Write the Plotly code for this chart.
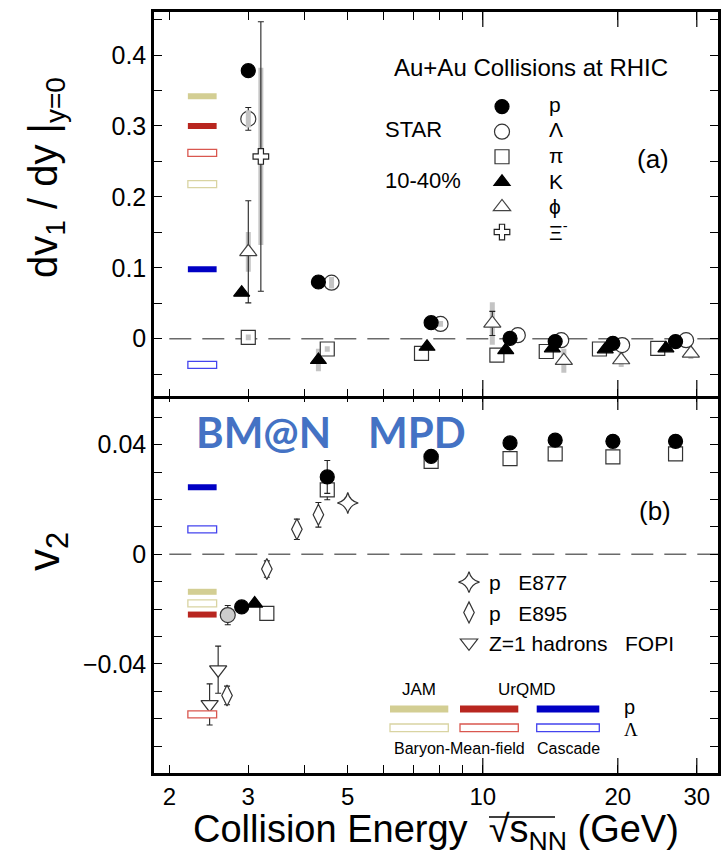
import plotly.graph_objects as go

# ---------------- data ----------------
# Panel (a): directed flow slope dv1/dy at y=0 (STAR, 10-40%)
p_a_E = [3.0, 4.3, 7.67, 11.5, 14.5, 19.5, 26.9]
p_a = [0.378, 0.080, 0.0226, 0.0005, -0.004, -0.0065, -0.004]

lam_a_E = [3.0, 4.6, 8.05, 11.97, 14.96, 20.45, 28.4]
lam_a = [0.310, 0.079, 0.0209, 0.005, -0.002, -0.0089, -0.002]
lam_a_err = [0.016, 0.004, 0, 0, 0, 0, 0]
lam_a_sys = [0.012, 0.008, 0.004, 0, 0, 0, 0]

pi_a_E = [3.0, 4.5, 7.3, 10.75, 13.85, 18.2, 24.55]
pi_a = [0.002, -0.0145, -0.0206, -0.023, -0.018, -0.0145, -0.0135]
pi_a_sys = [0.004, 0.004, 0, 0, 0, 0, 0]

k_a_E = [2.9, 4.3, 7.51, 11.25, 14.29, 18.75, 25.6]
k_a = [0.065, -0.030, -0.0113, -0.016, -0.0135, -0.015, -0.0135]
k_a_sys = [0, 0.016, 0, 0, 0, 0, 0]

phi_a_E = [3.0, 10.5, 15.16, 20.35, 29.1]
phi_a = [0.1226, 0.0216, -0.031, -0.030, -0.0206]
phi_a_err = [0.072, 0.017, 0.004, 0.003, 0.003]
phi_a_sys = [0.028, 0.03, 0.017, 0.01, 0.008]

xi_a_E = [3.2]
xi_a = [0.257]
xi_a_err = [0.19]
xi_a_sys = [0.125]

# Panel (b): elliptic flow v2
p_b_E = [2.9, 4.5, 7.67, 11.5, 14.5, 19.5, 26.9]
p_b = [-0.0192, 0.0282, 0.0357, 0.0406, 0.0416, 0.0412, 0.0412]
p_b_err = [0, 0.006, 0, 0, 0, 0, 0]

sq_b_E = [3.3, 4.5, 7.67, 11.5, 14.5, 19.5, 26.9]
sq_b = [-0.0216, 0.0235, 0.0339, 0.0349, 0.0366, 0.0355, 0.0366]
sq_b_err = [0, 0.0036, 0, 0, 0, 0, 0]

k_b_E = [3.1]
k_b = [-0.018]

lam_b_E = [2.7]
lam_b = [-0.0222]
lam_b_err = [0.0035]

e877_E = [5.0]
e877 = [0.0187]
e877_err = [0.0018]

e895_E = [2.69, 3.3, 3.85, 4.3]
e895 = [-0.0515, -0.0054, 0.0091, 0.0144]
e895_err = [0.0034, 0.003, 0.0037, 0.0045]

fopi_E = [2.46, 2.57]
fopi = [-0.0548, -0.0421]
fopi_err = [0.0075, 0.0086]

# Model calculations (bars on the left)
models = ["JAM", "UrQMD", "Cascade"]
model_E = [2.2, 2.55]
dv1_model_p = [0.342, 0.300, 0.098]
dv1_model_lam = [0.218, 0.262, -0.037]
v2_model_p = [-0.0137, -0.0220, 0.0244]
v2_model_lam = [-0.0179, -0.0584, 0.0091]
model_fill = ["#d3ce93", "#b8261f", "#0000c4"]
model_edge = ["#d9d4a2", "#d9574f", "#4444ee"]

star_labels = ["p", "\u039b", "\u03c0", "K", "\u03d5", "\u039e<sup>-</sup>"]

x_ticks = [2, 3, 5, 10, 20, 30]
x_long = [10, 20, 30]
x_minor = [4, 6, 7, 8, 9]
ya_ticks = [0, 0.1, 0.2, 0.3, 0.4]
yb_ticks = [-0.04, 0, 0.04]
yb_ticktext = ["\u22120.04", "0", "0.04"]

# ---------------- layout geometry ----------------
FONT = "Liberation Sans, Arial, sans-serif"
W, H = 722, 859
L, R, T, B = 154, 4, 12, 86
PW = W - L - R
PH = H - T - B
DIV = 395
DSPLIT = (H - B - DIV) / PH
HALF = 1.25 / PH   # so that the two panel frame lines coincide


def px(x):
    return (x - L) / PW


def py(y):
    return (H - B - y) / PH


fig = go.Figure()
INK = "#222"
NB = "\u00a0"


def add_sys(E, v, sys, panel):
    fig.add_trace(go.Scatter(
        x=E, y=v, xaxis="x2" if panel == "a" else "x", yaxis="y2" if panel == "a" else "y",
        mode="markers", marker=dict(size=1, opacity=0), showlegend=False, hoverinfo="skip",
        error_y=dict(type="data", array=sys, color="#c4c4c4", thickness=5, width=0)))


def add_pts(E, v, panel, symbol, size, fill, err=None, name=None, legend=None, rank=None,
            line_color=INK, lw=1.2):
    kw = dict(
        x=E, y=v, xaxis="x2" if panel == "a" else "x", yaxis="y2" if panel == "a" else "y",
        mode="markers", hoverinfo="skip",
        marker=dict(symbol=symbol, size=size, color=fill, line=dict(color=line_color, width=lw)),
        showlegend=name is not None, name=name or "")
    if legend:
        kw["legend"] = legend
    if rank:
        kw["legendrank"] = rank
    if err is not None:
        kw["error_y"] = dict(type="data", array=err, color=INK, thickness=1.1, width=3)
    fig.add_trace(go.Scatter(**kw))


# ---- panel (a) ----
add_sys(xi_a_E, xi_a, xi_a_sys, "a")
add_sys(phi_a_E, phi_a, phi_a_sys, "a")
add_sys(k_a_E, k_a, k_a_sys, "a")
add_pts(xi_a_E, xi_a, "a", "cross", 13, "white", err=xi_a_err, name=NB, legend="legend", rank=6)
add_pts(phi_a_E, phi_a, "a", "triangle-up", 15, "white", err=phi_a_err, name=NB, legend="legend", rank=5, line_color="#444")
add_pts(pi_a_E, pi_a, "a", "square", 14, "white", name=NB, legend="legend", rank=3, line_color="#333")
add_sys(pi_a_E, pi_a, pi_a_sys, "a")
add_pts(lam_a_E, lam_a, "a", "circle", 15, "white", err=lam_a_err, name=NB, legend="legend", rank=2, line_color="#333")
add_sys(lam_a_E, lam_a, lam_a_sys, "a")
add_pts(k_a_E, k_a, "a", "triangle-up", 14, "black", name=NB, legend="legend", rank=4, line_color="black")
add_pts(p_a_E, p_a, "a", "circle", 14, "black", name=NB, legend="legend", rank=1, line_color="black")

# ---- panel (b) ----
add_pts(fopi_E, fopi, "b", "triangle-down", 15, "white", err=fopi_err,
        name="Z=1 hadrons" + NB * 3 + "FOPI", legend="legend2", rank=3, line_color="#333")
add_pts(e895_E, e895, "b", "diamond-tall", 15, "white", err=e895_err,
        name="p" + NB * 3 + "E895", legend="legend2", rank=2, line_color="#333")
add_pts(e877_E, e877, "b", "star-diamond", 15, "white", err=e877_err,
        name="p" + NB * 3 + "E877", legend="legend2", rank=1, line_color="#333")
add_pts(lam_b_E, lam_b, "b", "circle", 15, "#cccccc", err=lam_b_err, line_color="#333")
add_pts(sq_b_E, sq_b, "b", "square", 14, "white", err=sq_b_err, line_color="#333")
add_pts(k_b_E, k_b, "b", "triangle-up", 14, "black", line_color="black")
add_pts(p_b_E, p_b, "b", "circle", 14, "black", err=p_b_err, line_color="black")

# ---------------- shapes ----------------
shapes = []
# zero lines
for xr, yr in (("x2", "y2"), ("x", "y")):
    shapes.append(dict(type="line", xref=xr, yref=yr, x0=2.0, x1=34, y0=0, y1=0,
                       line=dict(color="#6a6a6a", width=1.4, dash="22px,11px"), layer="below"))

# model bars
for i in range(3):
    for xr, yr, vp, vl in (("x2", "y2", dv1_model_p, dv1_model_lam), ("x", "y", v2_model_p, v2_model_lam)):
        shapes.append(dict(type="rect", xref=xr, yref=yr, x0=model_E[0], x1=model_E[1],
                           ysizemode="pixel", yanchor=vp[i], y0=-3, y1=3,
                           fillcolor=model_fill[i], line=dict(width=0)))
        shapes.append(dict(type="rect", xref=xr, yref=yr, x0=model_E[0], x1=model_E[1],
                           ysizemode="pixel", yanchor=vl[i], y0=-3.5, y1=3.5,
                           fillcolor="white", line=dict(color=model_edge[i], width=1.3)))

# longer ticks at 10, 20, 30
for xv in x_long:
    for xr, yanc, sgn in (("x", 0, 1), ("x", DSPLIT, -1), ("x2", DSPLIT, 1), ("x2", 1, -1)):
        shapes.append(dict(type="line", xref=xr, yref="paper", x0=xv, x1=xv,
                           ysizemode="pixel", yanchor=yanc, y0=0, y1=15 * sgn,
                           line=dict(color="black", width=1.2)))

# legend bars (model key)
leg_x = [(390, 448.3), (460, 518.3), (536.7, 599.3)]
for i in range(3):
    x0, x1 = leg_x[i]
    shapes.append(dict(type="rect", xref="paper", yref="paper", x0=px(x0), x1=px(x1),
                       y0=py(712.5), y1=py(705.5), fillcolor=model_fill[i], line=dict(width=0)))
    shapes.append(dict(type="rect", xref="paper", yref="paper", x0=px(x0), x1=px(x1),
                       y0=py(731.7), y1=py(724), fillcolor="white",
                       line=dict(color=model_edge[i], width=1.3)))

# overline of the square root in the x title
shapes.append(dict(type="line", xref="paper", yref="paper", x0=px(489), x1=px(555),
                   y0=py(817), y1=py(817), line=dict(color="black", width=1.3)))

fig.update_layout(shapes=shapes)

# ---------------- annotations ----------------
ann = []


def text(x, y, s, size, xanchor="center", color="black", family=FONT, angle=0):
    ann.append(dict(xref="paper", yref="paper", x=px(x), y=py(y), text=s, showarrow=False,
                    xanchor=xanchor, yanchor="middle", textangle=angle,
                    font=dict(size=size, color=color, family=family)))


text(530.7, 67, "Au+Au Collisions at RHIC", 24)
text(383, 129, "STAR", 22, xanchor="left")
text(383, 180, "10-40%", 22, xanchor="left")
for lab, yy in zip(star_labels, [104, 130, 155, 181, 206, 231]):
    text(547, yy, lab, 21, xanchor="left")
text(653, 159, "(a)", 26)
text(655, 511, "(b)", 26)
text(194, 431.5, "<b>BM@N</b>", 42, xanchor="left", color="#4472c4", family="Lato, Open Sans, sans-serif")
text(366, 431.5, "<b>MPD</b>", 42, xanchor="left", color="#4472c4", family="Lato, Open Sans, sans-serif")
text(419, 689, "JAM", 17)
text(526.5, 689, "UrQMD", 17)
text(459, 748, "Baryon-Mean-field", 16)
text(568, 748, "Cascade", 16)
text(629, 707, "p", 20)
text(631, 729, "\u039b", 19, family="Liberation Serif, serif")
text(46, 178, "dv<sub>1</sub> / dy |<sub>y=0</sub>", 40, angle=-90)
text(47, 552, "v<sub>2</sub>", 44, angle=-90)
text(435.5, 832, "Collision Energy  \u221as<sub>NN</sub> (GeV)", 38)

fig.update_layout(annotations=ann)

# ---------------- axes ----------------
xcommon = dict(type="log", range=[0.2669, 1.5244], showgrid=False, zeroline=False,
               showline=True, linecolor="black", linewidth=2.5, mirror="ticks",
               ticks="inside", ticklen=8, tickwidth=1.2, tickcolor="black",
               tickmode="array", tickvals=x_ticks, ticktext=[str(v) for v in x_ticks],
               minor=dict(tickmode="array", tickvals=x_minor, ticks="inside", ticklen=8,
                          tickwidth=1.2, tickcolor="black", showgrid=False),
               tickfont=dict(family=FONT, size=24, color="black"))
fig.update_layout(
    xaxis=dict(xcommon, anchor="y", domain=[0, 1]),
    xaxis2=dict(xcommon, anchor="y2", domain=[0, 1], matches="x", showticklabels=False),
    yaxis=dict(domain=[0, DSPLIT + HALF], range=[-0.0798, 0.05855], anchor="x",
               showgrid=False, zeroline=False, showline=True, linecolor="black",
               linewidth=2.5, mirror="ticks", ticks="inside", ticklen=8, tickwidth=1.2,
               tickcolor="black", tickmode="array", tickvals=yb_ticks, ticktext=yb_ticktext,
               minor=dict(tickmode="linear", tick0=0, dtick=0.01, ticks="inside", ticklen=8,
                          tickwidth=1.2, tickcolor="black", showgrid=False),
               tickfont=dict(family=FONT, size=25, color="black")),
    yaxis2=dict(domain=[DSPLIT - HALF, 1], range=[-0.0811, 0.4607], anchor="x2",
                showgrid=False, zeroline=False, showline=True, linecolor="black",
                linewidth=2.5, mirror="ticks", ticks="inside", ticklen=8, tickwidth=1.2,
                tickcolor="black", tickmode="array", tickvals=ya_ticks,
                ticktext=["0", "0.1", "0.2", "0.3", "0.4"],
                minor=dict(tickmode="linear", tick0=0, dtick=0.05, ticks="inside", ticklen=8,
                           tickwidth=1.2, tickcolor="black", showgrid=False),
                tickfont=dict(family=FONT, size=25, color="black")),
)

fig.update_layout(
    width=W, height=H, margin=dict(l=L, r=R, t=T, b=B, pad=0, autoexpand=False),
    paper_bgcolor="white", plot_bgcolor="white",
    font=dict(family=FONT, color="black"),
    legend=dict(x=px(482), y=py(89), xanchor="left", yanchor="top",
                bgcolor="rgba(0,0,0,0)", borderwidth=0, tracegroupgap=0,
                font=dict(family=FONT, size=17, color="black"), itemclick=False,
                itemdoubleclick=False),
    legend2=dict(x=px(449), y=py(562), xanchor="left", yanchor="top",
                 bgcolor="rgba(0,0,0,0)", borderwidth=0, tracegroupgap=0,
                 font=dict(family=FONT, size=21, color="black"), itemclick=False,
                 itemdoubleclick=False),
)

fig.write_html("out.html")
